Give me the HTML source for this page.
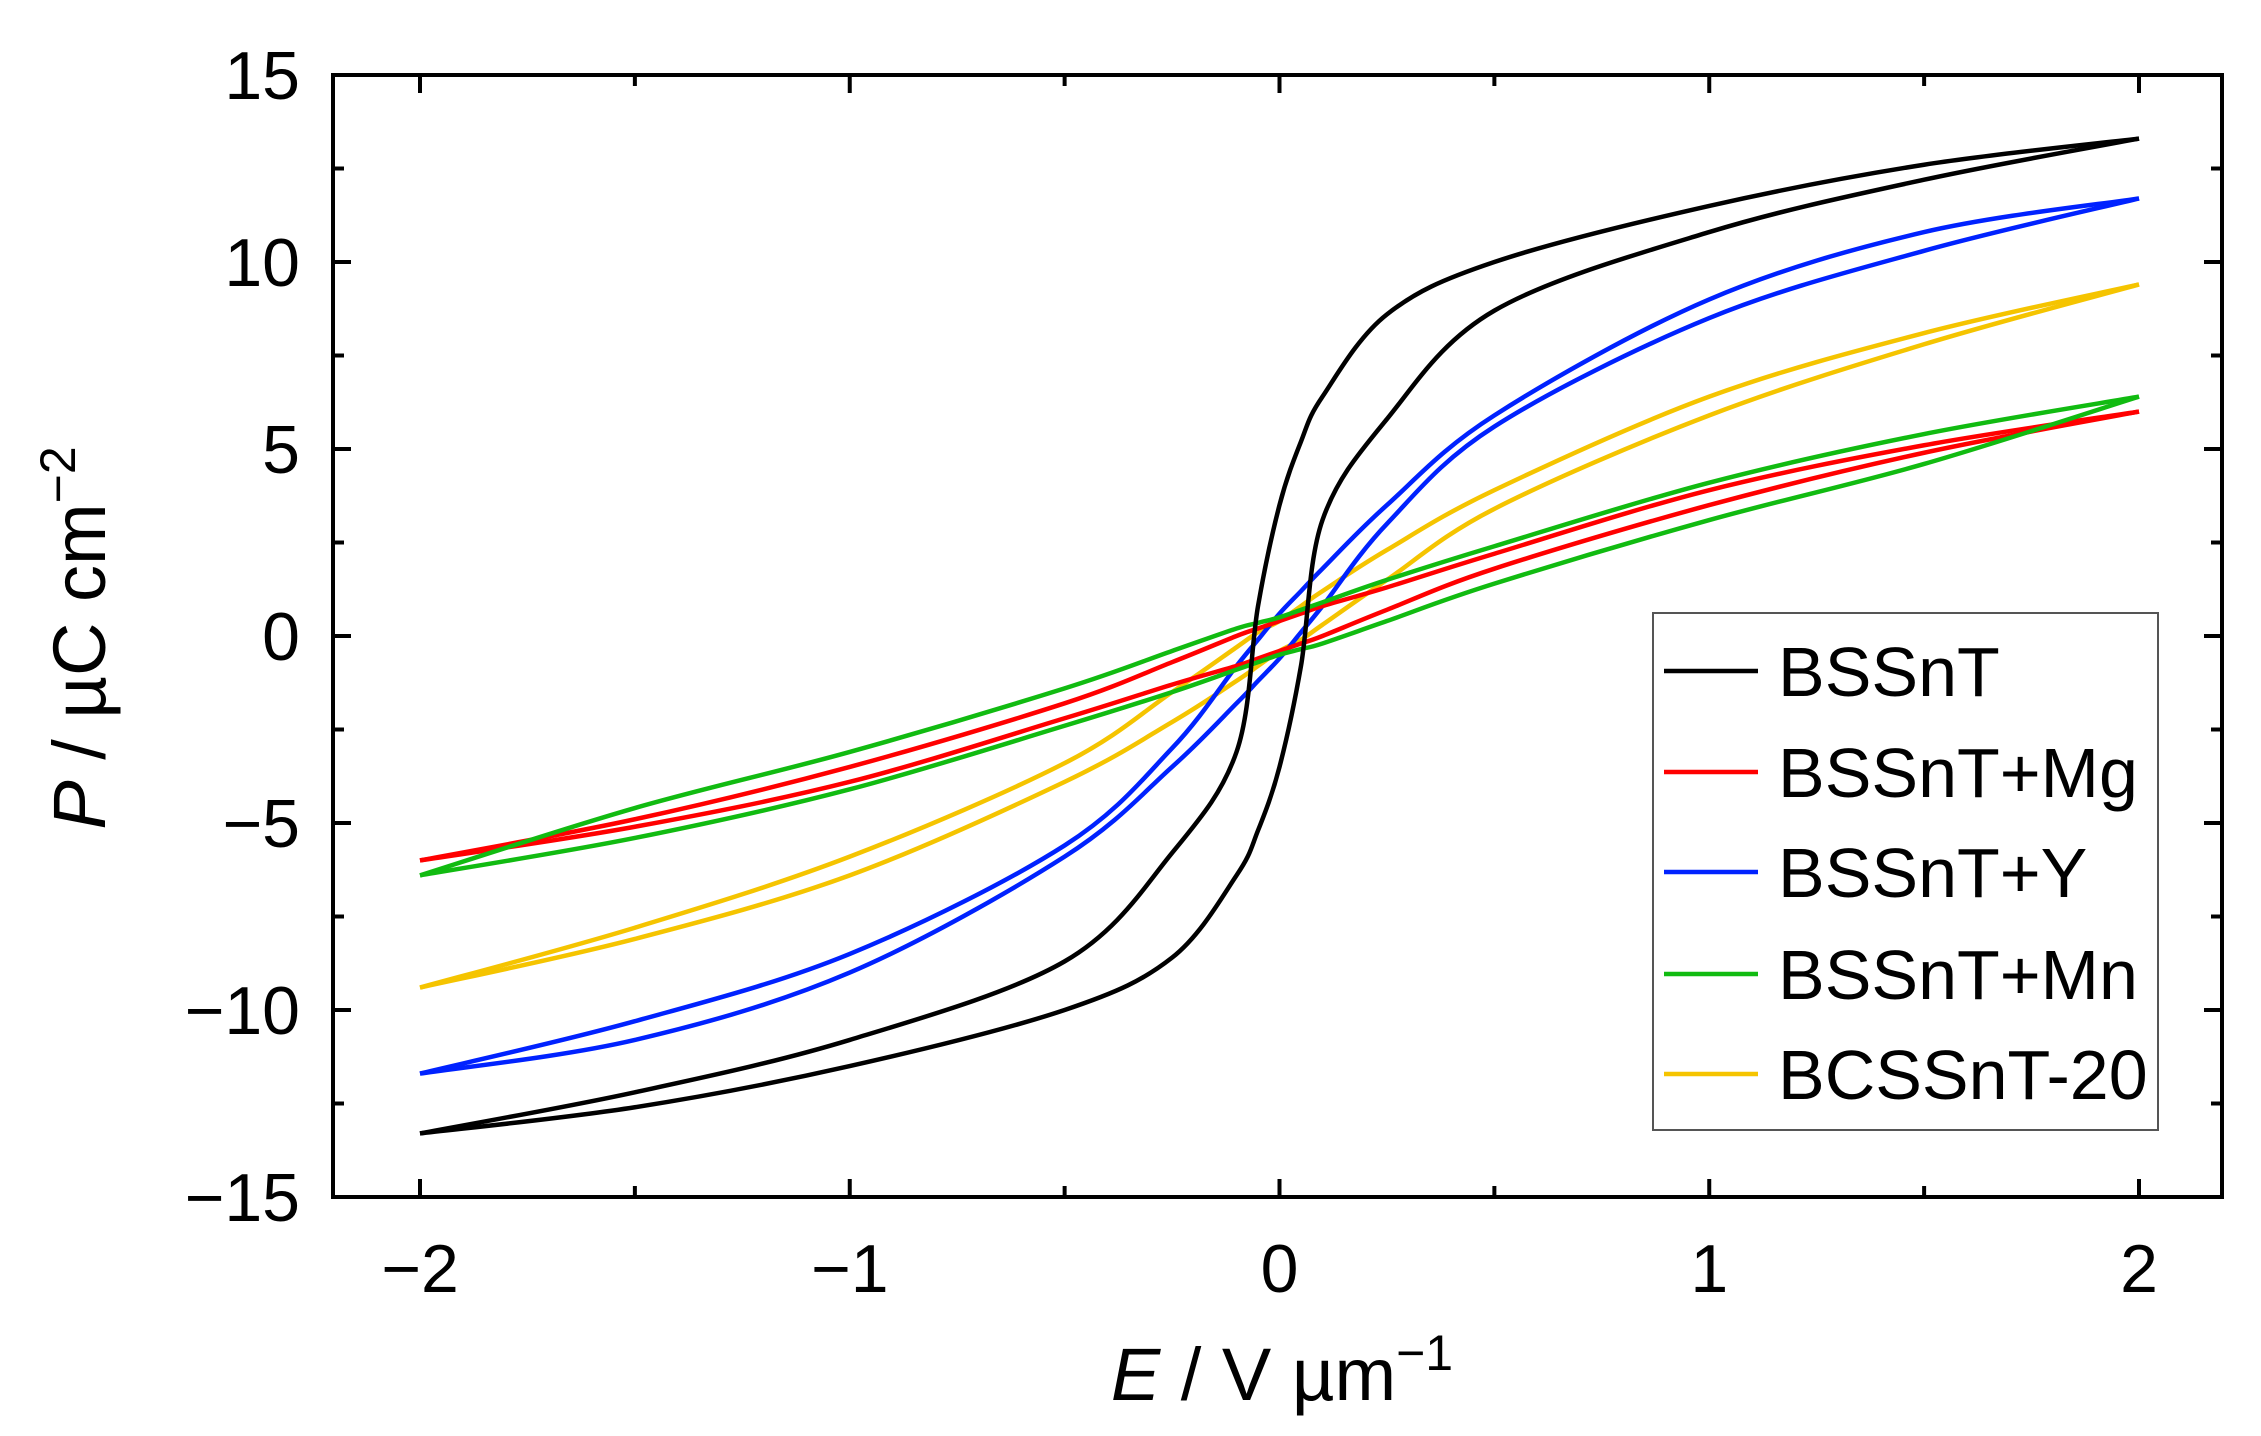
<!DOCTYPE html>
<html><head><meta charset="utf-8"><style>
html,body{margin:0;padding:0;background:#fff}
svg{display:block;font-family:"Liberation Sans",sans-serif}
</style></head><body>
<svg id="chart" width="2261" height="1436" viewBox="0 0 2261 1436" xmlns="http://www.w3.org/2000/svg"></svg>
<script>
const fieldE = [-2,-1.5,-1,-0.5,-0.25,-0.1,-0.05,0,0.05,0.1,0.25,0.5,1,1.5,2];
const seriesNames = ["BSSnT","BSSnT+Mg","BSSnT+Y","BSSnT+Mn","BCSSnT-20"];
const pBSSnT = [-13.3,-12.2,-10.8,-8.7,-5.8,-3.1,0.8,3.5,5.2,6.4,8.6,10.0,11.5,12.6,13.3];
const pMg    = [-6.0,-4.9,-3.5,-1.8,-0.7,0.0,0.2,0.4,0.6,0.8,1.3,2.2,3.9,5.1,6.0];
const pY     = [-11.7,-10.3,-8.5,-5.6,-3.0,-0.8,-0.1,0.6,1.2,1.8,3.5,5.9,9.0,10.8,11.7];
const pMn    = [-6.4,-4.6,-3.1,-1.4,-0.4,0.2,0.35,0.5,0.7,0.9,1.5,2.4,4.1,5.4,6.4];
const pBCS   = [-9.4,-7.8,-5.9,-3.4,-1.5,-0.3,0.1,0.4,0.8,1.2,2.3,3.9,6.4,8.1,9.4];
const xTicks = [-2,-1,0,1,2];
const xTickLabels = ["\u22122","\u22121","0","1","2"];
const yTicks = [-15,-10,-5,0,5,10,15];
const yTickLabels = ["\u221215","\u221210","\u22125","0","5","10","15"];

const NS="http://www.w3.org/2000/svg";
const svg=document.getElementById('chart');
const L=333,R=2222,T=75,B=1197;
const xs=e=>420+(e+2)/4*(2139-420);
const ys=p=>T+(15-p)/30*(B-T);
function mk(tag,attrs,parent){const el=document.createElementNS(NS,tag);for(const k in attrs)el.setAttribute(k,attrs[k]);(parent||svg).appendChild(el);return el;}
function path(pts){let d=`M${pts[0][0]},${pts[0][1]}`;for(let i=0;i<pts.length-1;i++){const p0=pts[Math.max(i-1,0)],p1=pts[i],p2=pts[i+1],p3=pts[Math.min(i+2,pts.length-1)];
const c1=[p1[0]+(p2[0]-p0[0])/6,p1[1]+(p2[1]-p0[1])/6],c2=[p2[0]-(p3[0]-p1[0])/6,p2[1]-(p3[1]-p1[1])/6];d+=` C${c1[0]},${c1[1]} ${c2[0]},${c2[1]} ${p2[0]},${p2[1]}`;}return d;}

const colors=["#000000","#ff0000","#0022ff","#11bb11","#f5c400"];
const allP=[pBSSnT,pMg,pY,pMn,pBCS];
const order=[4,2,1,3,0];
order.forEach(si=>{
  const up=allP[si];
  const upPts=fieldE.map((e,i)=>[xs(e),ys(up[i])]);
  const n=fieldE.length;
  const lowPts=fieldE.map((e,i)=>[xs(e),ys(-up[n-1-i])]);
  const g=mk('g',{});
  
  
  const a=mk('path',{d:path(upPts),fill:'none',stroke:colors[si],'stroke-width':4.5},g);
  
  
  const b=mk('path',{d:path(lowPts),fill:'none',stroke:colors[si],'stroke-width':4.5},g);
  
  
});

const fr=mk('rect',{x:L,y:T,width:R-L,height:B-T,fill:'none',stroke:'#000','stroke-width':4});


for(let v=-2;v<=2.001;v+=0.5){const x=xs(v);const len=Math.abs(v-Math.round(v))<1e-6?18:11;
 mk('line',{x1:x,x2:x,y1:B,y2:B-len,stroke:'#000','stroke-width':4});
 mk('line',{x1:x,x2:x,y1:T,y2:T+len,stroke:'#000','stroke-width':4});}
xTicks.forEach((v,i)=>{const t=mk('text',{x:xs(v),y:1292,'font-size':68,'text-anchor':'middle',fill:'#000'});t.textContent=xTickLabels[i];
 
 });
for(let v=-15;v<=15;v+=2.5){const y=ys(v);const len=v%5===0?18:11;
 mk('line',{x1:L,x2:L+len,y1:y,y2:y,stroke:'#000','stroke-width':4});
 mk('line',{x1:R,x2:R-len,y1:y,y2:y,stroke:'#000','stroke-width':4});}
yTicks.forEach((v,i)=>{const t=mk('text',{x:300,y:ys(v)+24,'font-size':68,'text-anchor':'end',fill:'#000'});t.textContent=yTickLabels[i];
 
 });
const xt=mk('text',{x:1282,y:1400,'font-size':74,'text-anchor':'middle',fill:'#000'});
xt.innerHTML='<tspan font-style="italic">E</tspan> / V µm<tspan dy="-30" font-size="50">\u22121</tspan>';


const yt=mk('text',{x:0,y:0,'font-size':74,'text-anchor':'middle',fill:'#000',transform:'translate(105,638) rotate(-90)'});
yt.innerHTML='<tspan font-style="italic">P</tspan> / µC cm<tspan dy="-30" font-size="50">\u22122</tspan>';


const lg=mk('g',{});


mk('rect',{x:1653,y:613,width:505,height:517,fill:'#fff',stroke:'#555','stroke-width':2},lg);
const ly=[671,772,872,974,1074];
seriesNames.forEach((nm,i)=>{const e=mk('g',{},lg);
 
 
 mk('line',{x1:1664,x2:1758,y1:ly[i],y2:ly[i],stroke:colors[i],'stroke-width':4.5},e);
 const t=mk('text',{x:1778,y:ly[i]+25,'font-size':70,fill:'#000'},e);t.textContent=nm;});
</script>
</body></html>
